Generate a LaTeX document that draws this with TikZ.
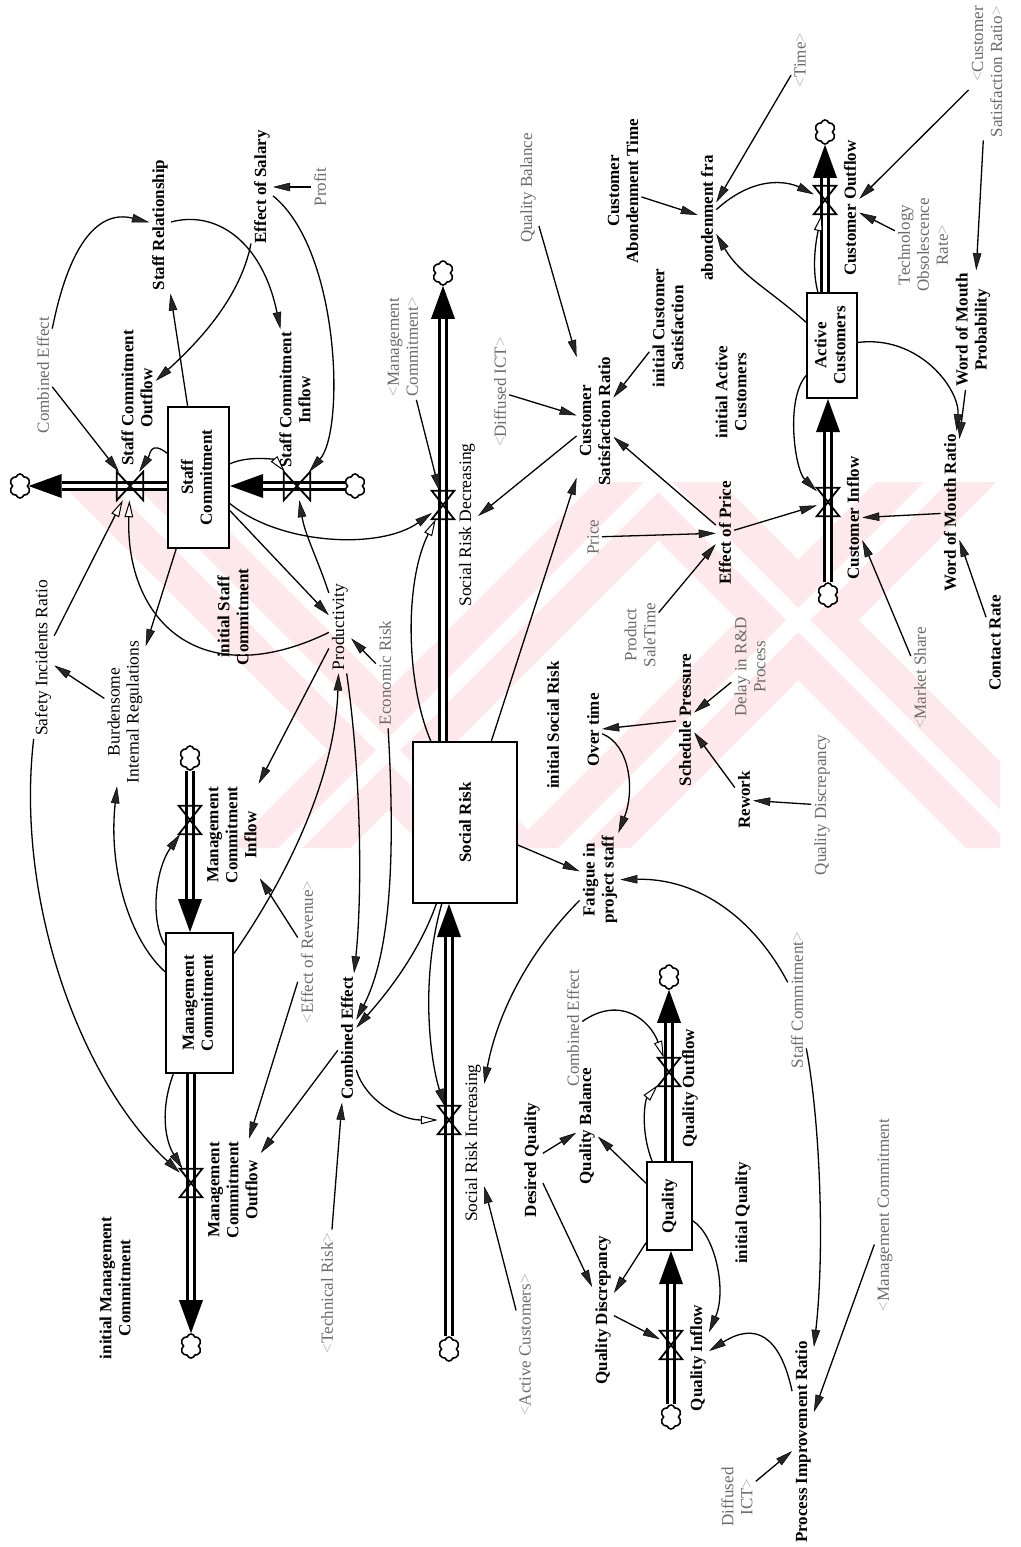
\documentclass[tikz,border=0pt]{standalone}
\usepackage{fontspec}
\setmainfont{Liberation Serif}
\usetikzlibrary{arrows.meta,shapes.symbols}
\pgfdeclarelayer{wmlayer}
\pgfdeclarelayer{pipelayer}
\pgfsetlayers{wmlayer,pipelayer,main}
\definecolor{shtext}{gray}{0.42}
\definecolor{shbrk}{gray}{0.72}
\definecolor{wmpink}{RGB}{253,232,237}
\newcommand{\shL}{\textcolor{shbrk}{<}}
\newcommand{\shR}{\textcolor{shbrk}{>}}
\newcommand{\rtwo}[2]{\rotatebox{90}{\begin{tabular}{@{}c@{}}#1\\#2\end{tabular}}}
\newcommand{\flowpipe}[2]{\draw[pipeA] #1 -- #2; \draw[pipeB] #1 -- #2;}
\tikzset{
  bl/.style={rotate=90, align=center, inner sep=3pt, font=\bfseries\fontsize{17}{19}\selectfont},
  nl/.style={rotate=90, align=center, inner sep=3pt, font=\fontsize{17.5}{19}\selectfont},
  gl/.style={rotate=90, align=center, inner sep=3pt, text=shtext, font=\fontsize{17}{19}\selectfont},
  stockbox/.style={draw, line width=2pt, fill=white, inner sep=0pt, font=\bfseries\fontsize{17}{19}\selectfont},
  valvev/.style={inner sep=0pt, minimum width=22pt, minimum height=28pt},
  valveh/.style={inner sep=0pt, minimum width=26pt, minimum height=28pt},
  valveline/.style={line width=1.8pt, line join=miter},
  cloudsym/.style={cloud, cloud puffs=6, cloud puff arc=150, cloud ignores aspect, draw, fill=white, line width=1.6pt, inner sep=0pt, minimum width=21pt, minimum height=24pt},
  pipeA/.style={line width=10pt, -{Triangle[length=33pt,width=24pt,line width=0pt]}},
  pipeB/.style={line width=4.5pt, white, shorten >=33pt},
  info/.style={line width=1.3pt, -{Triangle[length=17pt,width=8.5pt,line width=0.5pt,fill=black!85]}},
  infoo/.style={line width=1.3pt, -{Triangle[open,length=17pt,width=8.5pt,line width=1pt,fill=white]}},
  wmband/.style={fill=wmpink},
  wmgap/.style={fill=white},
}
\begin{document}
\begin{tikzpicture}[x=1pt,y=-1pt]
\useasboundingbox (0,0) rectangle (1020,1547);
\begin{pgfonlayer}{wmlayer}
\fill[white] (0,0) rectangle (1020,1547);
\begin{scope}
\clip (55,482) rectangle (1000,848);
% watermark: large diagonal chevrons
\fill[wmband] (60,482) -- (180,482) -- (546,848) -- (426,848) -- cycle;
\fill[wmband] (230,848) -- (350,848) -- (716,482) -- (596,482) -- cycle;
\fill[wmband] (510,848) -- (630,848) -- (996,482) -- (876,482) -- cycle;
\fill[wmband] (600,482) -- (720,482) -- (1086,848) -- (966,848) -- cycle;
\fill[wmgap] (108,482) -- (132,482) -- (498,848) -- (474,848) -- cycle;
\fill[wmgap] (278,848) -- (302,848) -- (668,482) -- (644,482) -- cycle;
\fill[wmgap] (558,848) -- (582,848) -- (948,482) -- (924,482) -- cycle;
\fill[wmgap] (648,482) -- (672,482) -- (1038,848) -- (1014,848) -- cycle;
\end{scope}
\end{pgfonlayer}

% ---------- stocks ----------
\node[stockbox, minimum width=61pt, minimum height=141pt] (SC) at (198.5,477.5) {\rtwo{Staff}{Commitment}};
\node[stockbox, minimum width=67pt, minimum height=140pt] (MC) at (199.5,1003) {\rtwo{Management}{Commitment}};
\node[stockbox, minimum width=104pt, minimum height=161pt] (SR) at (465,822.5) {\rotatebox{90}{Social Risk}};
\node[stockbox, minimum width=45pt, minimum height=88pt] (Q) at (669.5,1206) {\rotatebox{90}{Quality}};
\node[stockbox, minimum width=50pt, minimum height=105pt] (AC) at (832,345.5) {\rtwo{Active}{Customers}};

% ---------- valves ----------
\node[valveh] (vSCOut) at (130,486) {};
\node[valveh] (vSCIn) at (297,486) {};
\node[valvev] (vMCIn) at (190,820) {};
\node[valvev] (vMCOut) at (191,1183) {};
\node[valvev] (vSRD) at (443,505) {};
\node[valvev] (vSRI) at (449,1120) {};
\node[valvev] (vQOut) at (669,1072) {};
\node[valvev] (vQIn) at (671,1345) {};
\node[valvev] (vCOut) at (825,200) {};
\node[valvev] (vCIn) at (828,502) {};

% ---------- clouds ----------
\node[cloudsym] (cSCout) at (20,486) {};
\node[cloudsym] (cSCin) at (355,486) {};
\node[cloudsym] (cMCin) at (190,758) {};
\node[cloudsym] (cMCout) at (191,1346) {};
\node[cloudsym] (cSRtop) at (443,273) {};
\node[cloudsym] (cSRbot) at (449,1349) {};
\node[cloudsym] (cQtop) at (669,977) {};
\node[cloudsym] (cQbot) at (671,1417) {};
\node[cloudsym] (cCtop) at (825,132) {};
\node[cloudsym] (cCbot) at (828,595) {};

% ---------- pipes ----------
\begin{pgfonlayer}{pipelayer}
\flowpipe{(cSCin.west)}{(SC.east |- cSCin.west)}
\flowpipe{(SC.west |- cSCout.east)}{(cSCout.east)}
\flowpipe{(cMCin.south)}{(cMCin.south |- MC.north)}
\flowpipe{(cMCout.north |- MC.south)}{(cMCout.north)}
\flowpipe{(cSRtop.south |- SR.north)}{(cSRtop.south)}
\flowpipe{(cSRbot.north)}{(cSRbot.north |- SR.south)}
\flowpipe{(cQtop.south |- Q.north)}{(cQtop.south)}
\flowpipe{(cQbot.north)}{(cQbot.north |- Q.south)}
\flowpipe{(cCtop.south |- AC.north)}{(cCtop.south)}
\flowpipe{(cCbot.north)}{(cCbot.north |- AC.south)}
\end{pgfonlayer}

\foreach \v in {vMCIn,vMCOut,vSRD,vSRI,vQOut,vQIn,vCOut,vCIn}
  \draw[valveline] (\v.north west) -- (\v.north east) -- (\v.south west) -- (\v.south east) -- cycle;
\foreach \v in {vSCOut,vSCIn}
  \draw[valveline] (\v.north west) -- (\v.south west) -- (\v.north east) -- (\v.south east) -- cycle;

% ---------- labels ----------
\node[bl] (SRel) at (160,225) {Staff Relationship};
\node[bl] (EoS) at (262,187) {Effect of Salary};
\node[gl] (Profit) at (320,187) {Profit};
\node[gl] (CE1) at (43,375) {Combined Effect};
\node[bl] (SCOut) at (137,398) {Staff Commitment\\Outflow};
\node[bl] (SCIn) at (295,400) {Staff Commitment\\Inflow};
\node[nl] (SIR) at (43,658) {Safety Incidents Ratio};
\node[nl] (BIR) at (125,712) {Burdensome\\Internal Regulations};
\node[bl] (iSC) at (233,617) {initial Staff\\Commitment};
\node[nl] (Prod) at (340,627) {Productivity};
\node[bl] (MCIn) at (232,835) {Management\\Commitment\\Inflow};
\node[gl] (EoR) at (307,952) {\shL Effect of Revenue\shR};
\node[bl] (MCOut) at (233,1190) {Management\\Commitment\\Outflow};
\node[bl] (iMC) at (115,1288) {initial Management\\Commitment};
\node[gl] (TR) at (327,1293) {\shL Technical Risk\shR};
\node[bl] (CE) at (347,1038) {Combined Effect};
\node[gl] (ER) at (385,673) {Economic Risk};
\node[gl] (MC2) at (403,347) {\shL Management\\Commitment\shR};
\node[nl] (SRD) at (467,525) {Social Risk Decreasing};
\node[bl] (iSR) at (553,725) {initial Social Risk};
\node[nl] (SRI) at (473,1143) {Social Risk Increasing};
\node[gl] (AC2) at (525,1345) {\shL Active Customers\shR};
\node[gl] (DICT) at (500,392) {\shL Diffused ICT\shR};
\node[bl] (CSR) at (595,421) {Customer\\Satisfaction Ratio};
\node[gl] (QB2) at (528,188) {Quality Balance};
\node[bl] (CAT) at (623,191) {Customer\\Abondenment Time};
\node[bl] (iCS) at (668,328) {initial Customer\\Satisfaction};
\node[bl] (abf) at (707,218) {abondenment fra};
\node[gl] (Time) at (800,60) {\shL Time\shR};
\node[gl, anchor=east, align=right] (CSR2) at (987,3) {\shL Customer\\Satisfaction Ratio\shR};
\node[bl] (COut) at (850,208) {Customer Outflow};
\node[gl] (TOR) at (923,245) {Technology\\Obsolescence\\Rate\shR};
\node[bl] (WoMP) at (973,330) {Word of Mouth\\Probability};
\node[bl] (iAC) at (731,392) {initial Active\\Customers};
\node[bl] (EoP) at (725,533) {Effect of Price};
\node[gl] (Price) at (593,537) {Price};
\node[gl] (PST) at (640,635) {Product\\SaleTime};
\node[bl] (CIn) at (853,518) {Customer Inflow};
\node[bl] (WoMR) at (950,513) {Word of Mouth Ratio};
\node[gl] (MS) at (920,678) {\shL Market Share};
\node[bl] (CR) at (995,643) {Contact Rate};
\node[bl] (OT) at (593,730) {Over time};
\node[bl] (SP) at (685,720) {Schedule Pressure};
\node[gl] (DRD) at (750,667) {Delay in R\&D\\Process};
\node[bl] (RW) at (744,800) {Rework};
\node[gl] (QD2) at (822,805) {Quality Discrepancy};
\node[bl] (Fat) at (600,880) {Fatigue in\\project staff};
\node[gl] (SCm2) at (797,1000) {Staff Commitment\shR};
\node[gl] (CE2) at (573,1028) {Combined Effect};
\node[bl] (QOut) at (690,1088) {Quality Outflow};
\node[bl] (DQ) at (532,1160) {Desired Quality};
\node[bl] (QB) at (587,1126) {Quality Balance};
\node[bl] (QD) at (603,1310) {Quality Discrepancy};
\node[bl] (QIn) at (698,1358) {Quality Inflow};
\node[bl] (iQ) at (743,1213) {initial Quality};
\node[gl] (MC3) at (885,1215) {\shL Management Commitment};
\node[bl] (PIR) at (803,1442) {Process Improvement Ratio};
\node[gl] (DICT2) at (737,1497) {Diffused\\ICT\shR};

% ---------- information links ----------
\draw[info] (CE1) -- (vSCOut);
\draw[info] (CE1) .. controls (70,240) and (100,210) .. (SRel);
\draw[info] (SRel) .. controls (215,210) and (262,240) .. (SCIn);
\draw[info] (EoS) .. controls (240,300) and (195,345) .. (SCOut);
\draw[info] (Profit) -- (EoS);
\draw[info] (EoS) .. controls (340,250) and (345,430) .. (vSCIn);
\draw[info] (SC) -- (SRel);
\draw[info] (SC) .. controls (150,440) and (150,455) .. (vSCOut);
\draw[infoo] (SC) .. controls (250,455) and (275,460) .. (vSCIn);
\draw[info] (Prod) .. controls (318,560) and (305,535) .. (vSCIn);
\draw[info] (SC) -- (Prod);
\draw[info] (SC) .. controls (280,545) and (380,550) .. (vSRD);
\draw[infoo] (SIR) -- (vSCOut);
\draw[info] (BIR) -- (SIR);
\draw[info] (SC) -- (BIR);
\draw[infoo] (Prod) .. controls (200,695) and (125,620) .. (vSCOut);
\draw[info] (Prod) -- (MCIn);
\draw[info] (SIR) .. controls (15,900) and (80,1080) .. (vMCOut);
\draw[info] (MC) .. controls (130,940) and (108,870) .. (BIR);
\draw[info] (MC) .. controls (150,920) and (155,870) .. (vMCIn);
\draw[info] (EoR) -- (MCIn);
\draw[info] (EoR) -- (MCOut);
\draw[info] (CE) -- (MCOut);
\draw[info] (MC) .. controls (160,1110) and (165,1140) .. (vMCOut);
\draw[info] (TR) -- (CE);
\draw[info] (ER) -- (Prod);
\draw[info] (MC) .. controls (285,880) and (335,780) .. (Prod);
\draw[info] (Prod) .. controls (362,780) and (362,900) .. (CE);
\draw[info] (ER) .. controls (395,850) and (392,950) .. (CE);
\draw[info] (SR) .. controls (420,950) and (390,990) .. (CE);
\draw[infoo] (CE) .. controls (365,1100) and (400,1120) .. (vSRI);
\draw[info] (SR) .. controls (420,980) and (430,1060) .. (vSRI);
\draw[info] (MC2) -- (vSRD);
\draw[infoo] (SR) .. controls (405,680) and (405,580) .. (vSRD);
\draw[info] (CSR) -- (SRD);
\draw[info] (DICT) -- (CSR);
\draw[info] (QB2) -- (CSR);
\draw[info] (iCS) -- (CSR);
\draw[info] (SR) -- (CSR);
\draw[info] (EoP) -- (CSR);
\draw[info] (Price) -- (EoP);
\draw[info] (PST) -- (EoP);
\draw[info] (EoP) -- (vCIn);
\draw[info] (AC) .. controls (785,400) and (795,470) .. (vCIn);
\draw[info] (WoMR) -- (CIn);
\draw[info] (MS) -- (CIn);
\draw[info] (CR) -- (WoMR);
\draw[info] (AC) .. controls (920,335) and (960,390) .. (WoMR);
\draw[info] (WoMP) -- (WoMR);
\draw[info] (TOR) -- (COut);
\draw[info] (CAT) -- (abf);
\draw[info] (Time) -- (abf);
\draw[info] (abf) .. controls (760,170) and (795,185) .. (vCOut);
\draw[infoo] (AC) .. controls (812,270) and (815,245) .. (vCOut);
\draw[info] (AC) .. controls (770,290) and (740,275) .. (abf);
\draw[info] (CSR2) -- (COut);
\draw[info] (CSR2) -- (WoMP);
\draw[info] (SR) -- (Fat);
\draw[info] (OT) .. controls (630,745) and (635,790) .. (Fat);
\draw[info] (SP) -- (OT);
\draw[info] (DRD) -- (SP);
\draw[info] (RW) -- (SP);
\draw[info] (QD2) -- (RW);
\draw[info] (SCm2) .. controls (755,920) and (700,878) .. (Fat);
\draw[info] (SCm2) .. controls (820,1120) and (825,1250) .. (PIR);
\draw[info] (MC3) -- (PIR);
\draw[info] (PIR) .. controls (780,1335) and (755,1322) .. (QIn);
\draw[info] (DICT2) -- (PIR);
\draw[info] (Q) .. controls (715,1235) and (727,1290) .. (QIn);
\draw[info] (QD) -- (vQIn);
\draw[info] (Q) -- (QD);
\draw[info] (DQ) -- (QD);
\draw[info] (DQ) -- (QB);
\draw[info] (Q) -- (QB);
\draw[infoo] (CE2) .. controls (620,995) and (650,1020) .. (vQOut);
\draw[infoo] (Q) .. controls (640,1130) and (645,1100) .. (vQOut);
\draw[info] (AC2) -- (SRI);
\draw[info] (Fat) .. controls (540,940) and (500,1000) .. (SRI);
\end{tikzpicture}
\end{document}
